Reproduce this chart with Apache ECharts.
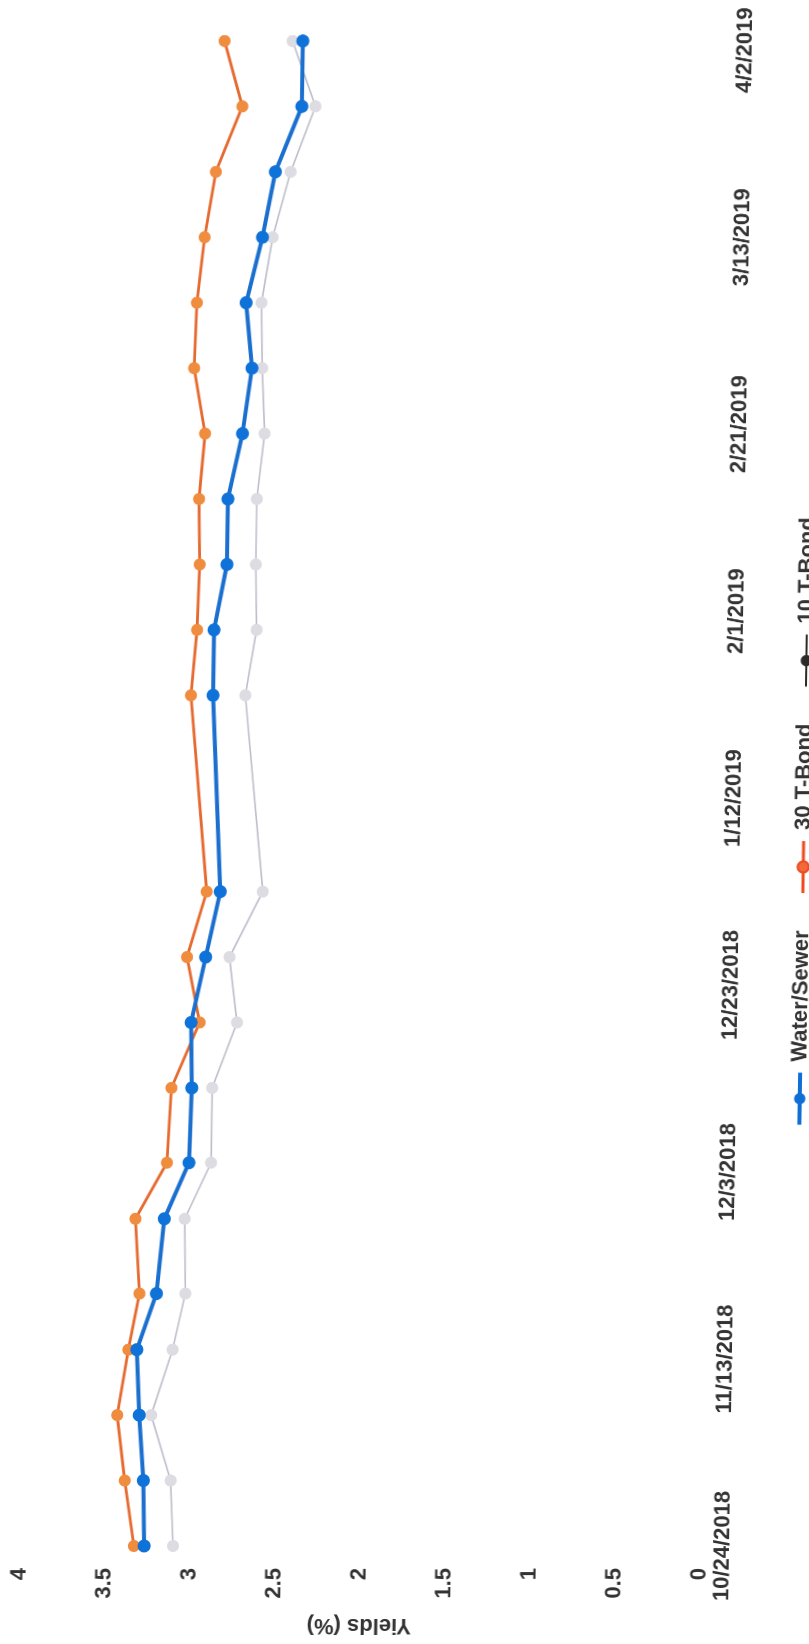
<!DOCTYPE html>
<html>
<head>
<meta charset="utf-8">
<script src="https://cdn.jsdelivr.net/npm/echarts@6/dist/echarts.min.js"></script>
<style>
  html, body { margin: 0; padding: 0; background: #ffffff; overflow: hidden; }
  #page { position: absolute; left: 0; top: 0; width: 809px; height: 1644px;
          transform-origin: 0 1546px; transform: skewX(-0.865deg); }
  #chart { position: absolute; left: 0; top: 0; width: 1644px; height: 809px;
           transform-origin: 0 0; transform: translate(0, 1644px) rotate(-90deg); }
</style>
</head>
<body>
<div id="page"><div id="chart"></div></div>
<script>
// ---- data ----
const dates = ['10/24/2018','10/31/2018','11/7/2018','11/14/2018','11/20/2018','11/28/2018',
               '12/4/2018','12/12/2018','12/19/2018','12/26/2018','1/2/2019','1/23/2019',
               '1/30/2019','2/6/2019','2/13/2019','2/20/2019','2/27/2019','3/6/2019',
               '3/13/2019','3/20/2019','3/27/2019','4/3/2019'];
const waterSewer = [3.27,3.28,3.31,3.33,3.22,3.18,3.04,3.03,3.04,2.96,2.88,2.94,
                    2.94,2.87,2.87,2.79,2.74,2.78,2.69,2.62,2.47,2.47];
const tBond30 = [3.33,3.39,3.44,3.38,3.32,3.35,3.17,3.15,2.99,3.07,2.96,3.07,
                 3.04,3.03,3.04,3.01,3.08,3.07,3.03,2.97,2.82,2.93];
const tBond10 = [3.10,3.12,3.24,3.12,3.05,3.06,2.91,2.91,2.77,2.82,2.63,2.75,
                 2.69,2.70,2.70,2.66,2.68,2.69,2.63,2.53,2.39,2.53];
const dateTickLabels = ['10/24/2018','11/13/2018','12/3/2018','12/23/2018','1/12/2019',
                        '2/1/2019','2/21/2019','3/13/2019','4/2/2019'];
const seriesNames = ['Water/Sewer','30 T-Bond','10 T-Bond'];

// ---- helpers ----
function toUTC(s) { const p = s.split('/').map(Number); return Date.UTC(p[2], p[0]-1, p[1]); }
const t0 = toUTC(dateTickLabels[0]);
const dayOf = s => Math.round((toUTC(s) - t0) / 86400000);
const pairs = vals => dates.map((d, i) => [dayOf(d), vals[i]]);
const tickStep = dayOf(dateTickLabels[1]);
const lastDay = dayOf(dates[dates.length - 1]);

const FONT = 'Liberation Sans, Arial, sans-serif';
const TXT = '#333333';

const chart = echarts.init(document.getElementById('chart'), null, { renderer: 'canvas', devicePixelRatio: 2 });
chart.setOption({
  backgroundColor: '#ffffff',
  animation: false,
  grid: { left: 98, right: 41, top: 20, bottom: 109, containLabel: false },
  xAxis: {
    type: 'value', min: 0, max: lastDay, interval: tickStep,
    axisLine: { show: false }, axisTick: { show: false }, splitLine: { show: false },
    axisLabel: {
      margin: 12, fontSize: 22, fontWeight: 'bold', fontFamily: FONT, color: TXT,
      showMaxLabel: false,
      formatter: v => (v % tickStep === 0 ? (dateTickLabels[v / tickStep] || '') : '')
    }
  },
  yAxis: {
    type: 'value', min: 0, max: 4, interval: 0.5,
    name: 'Yields (%)', nameLocation: 'middle', nameGap: 68,
    nameTextStyle: { fontSize: 22, fontWeight: 'bold', fontFamily: FONT, color: TXT },
    axisLine: { show: false }, axisTick: { show: false }, splitLine: { show: false },
    axisLabel: { margin: 22, fontSize: 22, fontWeight: 'bold', fontFamily: FONT, color: TXT }
  },
  legend: {
    left: 'center', top: 782, padding: 0, itemWidth: 52, itemHeight: 14, itemGap: 36,
    textStyle: { fontSize: 22, fontWeight: 'bold', fontFamily: FONT, color: TXT, padding: [0, 0, 0, 6] },
    data: [
      { name: seriesNames[0], itemStyle: { color: '#0F6FD6' }, lineStyle: { color: '#0F6FD6', width: 4 } },
      { name: seriesNames[1], itemStyle: { color: '#F26A3A', borderColor: '#EE4A1E', borderWidth: 2 }, lineStyle: { color: '#EE4A1E', width: 3 } },
      { name: seriesNames[2], itemStyle: { color: '#2a2a2a' }, lineStyle: { color: '#2a2a2a', width: 2 } }
    ]
  },
  series: [
    {
      name: seriesNames[2], type: 'line', data: pairs(tBond10), z: 2,
      symbol: 'circle', symbolSize: 12,
      itemStyle: { color: '#DCDCE2' },
      lineStyle: { color: '#BDBDCB', width: 1.6 }
    },
    {
      name: seriesNames[1], type: 'line', data: pairs(tBond30), z: 3,
      symbol: 'circle', symbolSize: 12,
      itemStyle: { color: '#F08C3E' },
      lineStyle: { color: '#E6692F', width: 2.8 }
    },
    {
      name: seriesNames[0], type: 'line', data: pairs(waterSewer), z: 4,
      symbol: 'circle', symbolSize: 13,
      itemStyle: { color: '#0F72D8' },
      lineStyle: { color: '#1A6FCF', width: 4 }
    }
  ]
});
</script>
</body>
</html>
